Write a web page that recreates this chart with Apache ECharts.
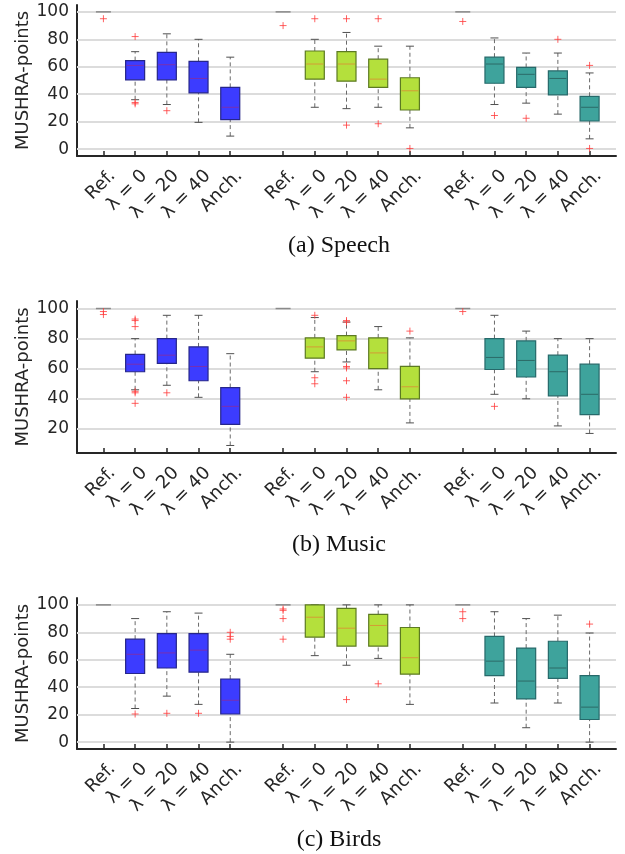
<!DOCTYPE html>
<html><head><meta charset="utf-8">
<script src="https://cdn.jsdelivr.net/npm/echarts@6/dist/echarts.min.js"></script>
<style>html,body{margin:0;padding:0;background:#fff}#c{width:625px;height:854px}</style>
</head><body><div id="c"></div>
<script>
// ---------- data ----------
const conditions = ['Ref.', 'λ = 0', 'λ = 20', 'λ = 40', 'Anch.'];
const yTicksA = [0, 20, 40, 60, 80, 100];
const yTicksB = [20, 40, 60, 80, 100];
const yTicksC = [0, 20, 40, 60, 80, 100];
const captions = ['(a) Speech', '(b) Music', '(c) Birds'];
// each row: [lower whisker, Q1, median, Q3, upper whisker]
const speechBlue  = [[100,100,100,100,100],[36,50.5,61,64.5,71],[32.5,50.5,61.5,70.5,84],[19.5,41,51.5,64,80],[9.5,21.5,30.5,45,67]];
const speechGreen = [[100,100,100,100,100],[30.5,51,62,71.5,80],[29.5,49.5,62,71,85],[30.5,45,51,65.5,75],[15.5,28.5,42.5,52,75]];
const speechTeal  = [[100,100,100,100,100],[32.5,48,62,67,81],[33.5,45,54.5,59.5,70],[25.5,39.5,51.5,57,70],[7.5,20.5,30.5,38.5,55.5]];
const speechBlueOut  = [[95],[82,34,33],[28],[],[]];
const speechGreenOut = [[90],[95],[95,17.5],[95,18.5],[0.5]];
const speechTealOut  = [[93],[24.5],[22.5],[80],[61,0.5]];

const musicBlue  = [[100,100,100,100,100],[46,58,63,69.5,80],[49,63.5,69,80,95.5],[41,52,61.5,74.5,95.5],[9,23,35,47.5,70]];
const musicGreen = [[100,100,100,100,100],[58,67,74.5,80.5,94],[64.5,72.5,78.5,82,91],[46,60,70.5,80.5,88],[24,40,48,61.5,80.5]];
const musicTeal  = [[100,100,100,100,100],[43,59.5,67.5,80,95.5],[40,54.5,65.5,78.5,85],[22,42,58,69,80],[17,29.5,43,63,80]];
const musicBlueOut  = [[98,96],[93,92,88,45,44,37],[44],[],[]];
const musicGreenOut = [[],[95.5,54,50],[92,91,61.5,60.5,52,41],[],[85]];
const musicTealOut  = [[98],[35],[],[],[]];

const birdsBlue  = [[100,100,100,100,100],[24.5,50,64,75,90],[33.5,54,65,79,95],[27.5,51,67,79,94],[0,20.5,30.5,46,64]];
const birdsGreen = [[100,100,100,100,100],[63,76.5,91,100,100],[56,70,83,97.5,100],[61,70,85,93,100],[27.5,49.5,61.5,83.5,100]];
const birdsTeal  = [[100,100,100,100,100],[28.5,48.5,59,77,95],[10.5,31.5,44.5,68.5,90],[28.5,46.5,54,73.5,92.5],[0,16.5,25.5,48.5,79.5]];
const birdsBlueOut  = [[],[20.5],[21],[21],[80,77,75]];
const birdsGreenOut = [[97,96,90,75],[],[31],[42.5],[]];
const birdsTealOut  = [[95,90],[],[],[],[86]];

// ---------- styling / layout ----------
const palette = [
  {fill:'#3c3cff', border:'#26268a', median:'#7a30b0'},
  {fill:'#b4e03c', border:'#5c7a22', median:'#d49c35'},
  {fill:'#3ea39c', border:'#26696a', median:'#2c6a67'}
];
const PAD = 2, STEP = 3, GROUP = 17, NCAT = 51;
const catNames = new Array(NCAT).fill('');
function pos(g, i){ return PAD + g*GROUP + i*STEP; }
for (let g=0; g<3; g++) for (let i=0; i<5; i++) catNames[pos(g,i)] = conditions[i];

const panels = [
  {boxes:[speechBlue,speechGreen,speechTeal], outs:[speechBlueOut,speechGreenOut,speechTealOut], ticks:yTicksA, min:-5, max:105, top:5, height:151, capTop:229},
  {boxes:[musicBlue,musicGreen,musicTeal], outs:[musicBlueOut,musicGreenOut,musicTealOut], ticks:yTicksB, min:4, max:105, top:301, height:152, capTop:528},
  {boxes:[birdsBlue,birdsGreen,birdsTeal], outs:[birdsBlueOut,birdsGreenOut,birdsTealOut], ticks:yTicksC, min:-5, max:105, top:598, height:151, capTop:823}
];

const BW = 19, CAP = 8;
function renderBox(params, api){
  const x = api.value(0);
  const g = api.value(6);
  const c = palette[g];
  const pLo = api.coord([x, api.value(1)]);
  const pQ1 = api.coord([x, api.value(2)]);
  const pMd = api.coord([x, api.value(3)]);
  const pQ3 = api.coord([x, api.value(4)]);
  const pHi = api.coord([x, api.value(5)]);
  const cx = pQ1[0];
  const ch = [];
  if (Math.abs(pQ1[1]-pQ3[1]) < 0.5 && Math.abs(pLo[1]-pHi[1]) < 0.5) {
    ch.push({type:'line', shape:{x1:cx-BW/2+2, y1:pMd[1], x2:cx+BW/2-2, y2:pMd[1]}, style:{stroke:'#8a8a8a', lineWidth:1.5}});
    return {type:'group', children:ch};
  }
  const wh = {stroke:'#6a6a6a', lineWidth:1, lineDash:[4,3]};
  ch.push({type:'line', shape:{x1:cx, y1:pLo[1], x2:cx, y2:pQ1[1]}, style:wh});
  ch.push({type:'line', shape:{x1:cx, y1:pQ3[1], x2:cx, y2:pHi[1]}, style:wh});
  ch.push({type:'line', shape:{x1:cx-CAP/2, y1:pLo[1], x2:cx+CAP/2, y2:pLo[1]}, style:{stroke:'#505050', lineWidth:1}});
  ch.push({type:'line', shape:{x1:cx-CAP/2, y1:pHi[1], x2:cx+CAP/2, y2:pHi[1]}, style:{stroke:'#505050', lineWidth:1}});
  ch.push({type:'rect', shape:{x:cx-BW/2, y:pQ3[1], width:BW, height:pQ1[1]-pQ3[1]}, style:{fill:c.fill, stroke:c.border, lineWidth:1.2}});
  ch.push({type:'line', shape:{x1:cx-BW/2+1, y1:pMd[1], x2:cx+BW/2-1, y2:pMd[1]}, style:{stroke:c.median, lineWidth:1}});
  return {type:'group', children:ch};
}

const grids=[], xAxes=[], yAxes=[], series=[], titles=[];
panels.forEach((p, k) => {
  grids.push({left:77, right:9, top:p.top, height:p.height, containLabel:false});
  xAxes.push({
    type:'category', gridIndex:k, data:catNames, boundaryGap:true,
    axisLine:{show:true, onZero:false, lineStyle:{color:'#262626', width:2}},
    axisTick:{show:true, inside:true, length:5, alignWithLabel:true, interval:(i, v) => v !== '', lineStyle:{color:'#262626', width:1.5}},
    axisLabel:{show:true, interval:(i, v) => v !== '', rotate:45, margin:8, color:'#262626', fontFamily:'DejaVu Sans', fontSize:18,
      verticalAlign:'top', padding:[4,0,0,0]},
    splitLine:{show:false}
  });
  yAxes.push({
    type:'value', gridIndex:k, min:p.min, max:p.max, interval:1,
    name:'MUSHRA-points', nameLocation:'middle', nameRotate:90, nameGap:45, nameMoveOverlap:false,
    nameTextStyle:{color:'#262626', fontFamily:'DejaVu Sans', fontSize:18},
    axisLine:{show:true, lineStyle:{color:'#262626', width:2}},
    axisTick:{show:false},
    axisLabel:{color:'#262626', fontFamily:'DejaVu Sans', fontSize:17, margin:8,
      formatter:(v) => p.ticks.indexOf(v) >= 0 ? String(v) : ''},
    splitLine:{show:false}
  });
  // gridlines drawn from tick values
  series.push({
    type:'line', xAxisIndex:k, yAxisIndex:k, data:[], z:1, silent:true,
    markLine:{silent:true, symbol:'none', z:1, animation:false, label:{show:false},
      lineStyle:{color:'#dcdcdc', width:2, type:'solid'},
      data:p.ticks.map(t => ({yAxis:t}))}
  });
  const boxData = [], outData = [];
  p.boxes.forEach((grp, g) => {
    grp.forEach((b, i) => { boxData.push([pos(g,i), b[0], b[1], b[2], b[3], b[4], g]); });
    p.outs[g].forEach((list, i) => list.forEach(v => outData.push([pos(g,i), v])));
  });
  series.push({type:'custom', xAxisIndex:k, yAxisIndex:k, z:3, renderItem:renderBox, data:boxData, encode:{x:0, y:[1,2,3,4,5]}, animation:false, clip:false});
  series.push({type:'scatter', xAxisIndex:k, yAxisIndex:k, z:4, data:outData, animation:false,
    symbol:'path://M5,0L5,10M0,5L10,5', symbolSize:7,
    itemStyle:{color:'rgba(0,0,0,0)', borderColor:'#ff3b3b', borderWidth:1}});
  titles.push({text:captions[k], left:334, top:p.capTop, textAlign:'center',
    textStyle:{fontFamily:'Liberation Serif', fontSize:24, fontWeight:'normal', color:'#111'}});
});

const chart = echarts.init(document.getElementById('c'), null, {renderer:'canvas'});
chart.setOption({animation:false, title:titles, grid:grids, xAxis:xAxes, yAxis:yAxes, series:series});
</script></body></html>
